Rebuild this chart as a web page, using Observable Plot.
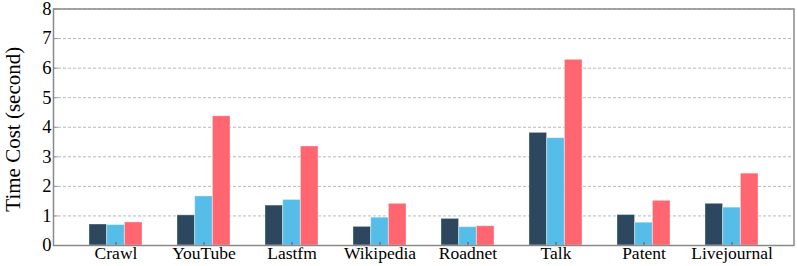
<!DOCTYPE html>
<html>
<head>
<meta charset="utf-8">
<script src="https://cdn.jsdelivr.net/npm/d3@7"></script>
<script src="https://cdn.jsdelivr.net/npm/@observablehq/plot@0.6"></script>
<style>
  html, body { margin: 0; padding: 0; background: #fff; }
  svg, svg text { font-family: "Liberation Serif", "Times New Roman", serif !important; }
</style>
</head>
<body>
<div id="chart"></div>
<script>
const categories = ["Crawl", "YouTube", "Lastfm", "Wikipedia", "Roadnet", "Talk", "Patent", "Livejournal"];
const seriesNames = ["A", "B", "C"];
const seriesA = [0.71, 1.02, 1.35, 0.63, 0.90, 3.81, 1.03, 1.41];
const seriesB = [0.69, 1.66, 1.54, 0.94, 0.62, 3.63, 0.77, 1.28];
const seriesC = [0.78, 4.37, 3.35, 1.41, 0.65, 6.28, 1.51, 2.43];
const yTicks = [0, 1, 2, 3, 4, 5, 6, 7, 8];
const yLabel = "Time Cost (second)";

const serif = "'Liberation Serif', 'Times New Roman', serif";
const colors = ["#2c475e", "#55bde8", "#ff666f"];
const allSeries = [seriesA, seriesB, seriesC];
const rows = [];
allSeries.forEach((vals, s) => vals.forEach((v, i) => rows.push({category: categories[i], series: seriesNames[s], value: v})));

const bw = 17.72;
const insets = [[0, 2 * bw], [bw, bw], [2 * bw, 0]];

const chart = Plot.plot({
  width: 797,
  height: 266,
  marginLeft: 53,
  marginRight: 3.5,
  marginTop: 8.5,
  marginBottom: 21,
  style: {fontFamily: serif, background: "#fff", color: "#000"},
  x: {domain: categories, paddingInner: 0.4, paddingOuter: 0.38, label: null},
  y: {domain: [0, 8], label: null},
  color: {domain: seriesNames, range: colors},
  marks: [
    Plot.gridY(yTicks, {stroke: "#b4b8c4", strokeOpacity: 1, strokeDasharray: "3,2", strokeWidth: 1}),
    ...seriesNames.map((name, s) => Plot.barY(rows.filter(d => d.series === name), {
      x: "category", y: "value", fill: "series",
      insetLeft: insets[s][0], insetRight: insets[s][1],
      stroke: "#fff", strokeOpacity: 0.35, strokeWidth: 1
    })),
    Plot.axisY(yTicks, {tickSize: -5, tickPadding: 7, fontSize: 18.5, fontFamily: serif, label: null, stroke: "#999"}),
    Plot.axisX({tickSize: -3, tickPadding: 4, fontSize: 17.5, fontFamily: serif, label: null, stroke: "#555"}),
    Plot.text([yLabel], {frameAnchor: "left", textAnchor: "middle", rotate: -90, dx: -40, dy: 2, fontSize: 21, fontFamily: serif}),
    Plot.frame({stroke: "#8a8a8a", strokeWidth: 1.5})
  ]
});
document.getElementById("chart").appendChild(chart);
</script>
</body>
</html>
